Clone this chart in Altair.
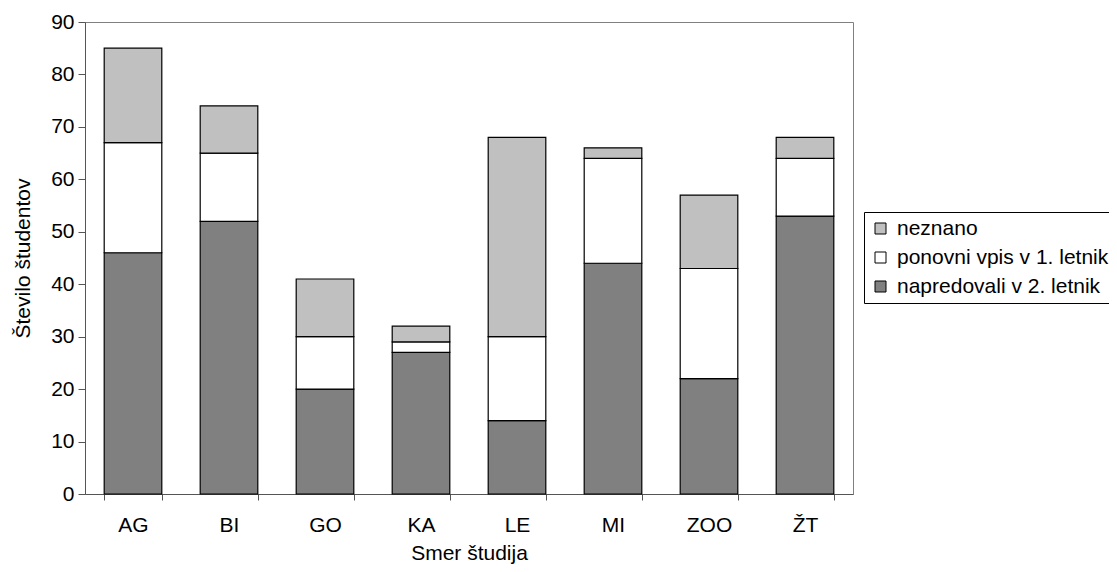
import altair as alt
import pandas as pd

smeri = ["AG", "BI", "GO", "KA", "LE", "MI", "ZOO", "ŽT"]
napredovali = [46, 52, 20, 27, 14, 44, 22, 53]
ponovni = [21, 13, 10, 2, 16, 20, 21, 11]
neznano = [18, 9, 11, 3, 38, 2, 14, 4]

serije = ["neznano", "ponovni vpis v 1. letnik", "napredovali v 2. letnik"]
barve = ["#c0c0c0", "#ffffff", "#808080"]
vrstni_red = {"napredovali v 2. letnik": 0, "ponovni vpis v 1. letnik": 1, "neznano": 2}

rows = []
for i, s in enumerate(smeri):
    for name, vals in [("napredovali v 2. letnik", napredovali),
                       ("ponovni vpis v 1. letnik", ponovni),
                       ("neznano", neznano)]:
        rows.append({"smer": s, "serija": name, "vrednost": vals[i], "red": vrstni_red[name]})
df = pd.DataFrame(rows)

FONT = "Liberation Sans"
FS = 21

chart = alt.Chart(df).mark_bar(stroke="black", strokeWidth=1.2).encode(
    x=alt.X("smer:N", sort=smeri, title="Smer študija",
            scale=alt.Scale(paddingInner=0.4, paddingOuter=0.2),
            axis=alt.Axis(labelAngle=0, tickBand="extent", tickSize=6, labelPadding=14,
                          titlePadding=7, domainColor="#555555", tickColor="#555555")),
    y=alt.Y("vrednost:Q", stack="zero", title="Število študentov",
            scale=alt.Scale(domain=[0, 90]),
            axis=alt.Axis(values=list(range(0, 91, 10)), grid=False, tickSize=7,
                          labelPadding=4, titlePadding=17, domainColor="#555555",
                          tickColor="#555555")),
    color=alt.Color("serija:N", scale=alt.Scale(domain=serije, range=barve),
                    legend=alt.Legend(title=None, orient="none", legendX=779, legendY=190,
                                      symbolType="square", symbolSize=121,
                                      symbolStrokeColor="black", symbolStrokeWidth=1,
                                      strokeColor="black", padding=6, rowPadding=7,
                                      labelFontSize=FS, labelFont=FONT, labelColor="black",
                                      labelLimit=400, labelOffset=6)),
    order=alt.Order("red:Q", sort="ascending"),
).properties(
    width=768, height=472,
    autosize=alt.AutoSizeParams(type="none"),
    padding={"left": 77, "top": 14, "right": 256, "bottom": 70},
).configure_view(
    stroke="#808080", strokeWidth=1
).configure_axis(
    labelFont=FONT, titleFont=FONT, labelFontSize=FS, titleFontSize=FS,
    labelColor="black", titleColor="black", titleFontWeight="normal"
)

chart.save("out.html", embed_options={"renderer": "svg", "actions": False})
